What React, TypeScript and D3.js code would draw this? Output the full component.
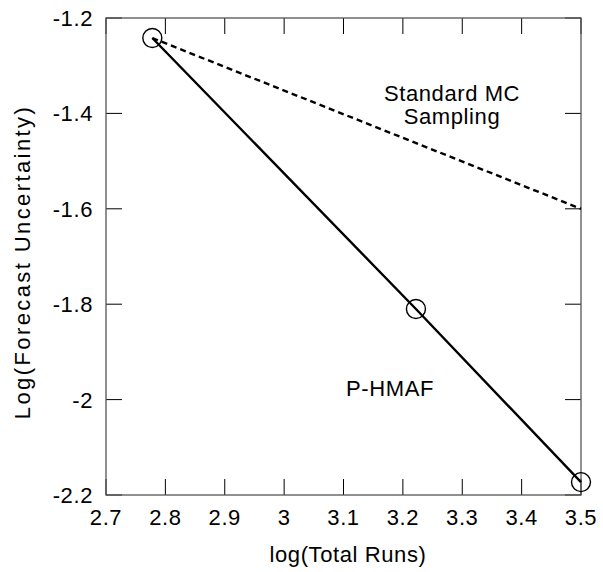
import React from "react";
import * as d3 from "d3";

const xTicks = [2.7, 2.8, 2.9, 3, 3.1, 3.2, 3.3, 3.4, 3.5];
const yTicks = [-2.2, -2, -1.8, -1.6, -1.4, -1.2];
const phmafX = [2.778, 3.222, 3.5];
const phmafY = [-1.242, -1.81, -2.173];
const mcX = [2.778, 3.5];
const mcY = [-1.242, -1.6];

const W = 603, H = 572;
const m = { left: 106, top: 18, right: 581, bottom: 495 };
const font = "'Liberation Sans', Arial, Helvetica, sans-serif";

export default function App() {
  const x = d3.scaleLinear().domain([2.7, 3.5]).range([m.left, m.right]);
  const y = d3.scaleLinear().domain([-2.2, -1.2]).range([m.bottom, m.top]);
  const line = d3.line<[number, number]>().x(d => x(d[0])).y(d => y(d[1]));
  const ph: [number, number][] = phmafX.map((v, i) => [v, phmafY[i]]);
  const mc: [number, number][] = mcX.map((v, i) => [v, mcY[i]]);
  const tl = 16;
  const fs = 22;
  const ls = 0.6;
  return (
    <svg width={W} height={H} style={{ position: "absolute", left: 0, top: 0 }} fontFamily={font}>
      <rect x={0} y={0} width={W} height={H} fill="#fff" />
      {xTicks.map(t => (
        <g key={"x" + t}>
          <line x1={x(t)} x2={x(t)} y1={m.bottom} y2={m.bottom - tl} stroke="#000" />
          <line x1={x(t)} x2={x(t)} y1={m.top} y2={m.top + tl} stroke="#000" />
          <text x={x(t)} y={525} fontSize={fs} textAnchor="middle" letterSpacing={ls}>{String(t)}</text>
        </g>
      ))}
      {yTicks.map(t => (
        <g key={"y" + t}>
          <line x1={m.left} x2={m.left + tl} y1={y(t)} y2={y(t)} stroke="#000" />
          <line x1={m.right} x2={m.right - tl} y1={y(t)} y2={y(t)} stroke="#000" />
          <text x={93} y={y(t) + 8} fontSize={fs} textAnchor="end" letterSpacing={ls}>{String(t)}</text>
        </g>
      ))}
      <rect x={m.left} y={m.top} width={m.right - m.left} height={m.bottom - m.top} fill="none" stroke="#555" strokeWidth={1.3} />
      <path d={line(mc) || ""} fill="none" stroke="#000" strokeWidth={2.4} strokeDasharray="6,4" />
      <path d={line(ph) || ""} fill="none" stroke="#000" strokeWidth={2.4} />
      {ph.map((d, i) => (
        <circle key={i} cx={x(d[0])} cy={y(d[1])} r={9.5} fill="none" stroke="#000" strokeWidth={1.4} />
      ))}
      <text x={452} y={101} fontSize={fs} textAnchor="middle" letterSpacing={ls}>Standard MC</text>
      <text x={452} y={124} fontSize={fs} textAnchor="middle" letterSpacing={ls}>Sampling</text>
      <text x={390} y={396} fontSize={fs} textAnchor="middle" letterSpacing={ls}>P-HMAF</text>
      <text x={348} y={562} fontSize={fs} textAnchor="middle" letterSpacing={ls}>log(Total Runs)</text>
      <text transform={`translate(30,${262}) rotate(-90)`} fontSize={22} textAnchor="middle" letterSpacing={2.4}>Log(Forecast Uncertainty)</text>
    </svg>
  );
}
